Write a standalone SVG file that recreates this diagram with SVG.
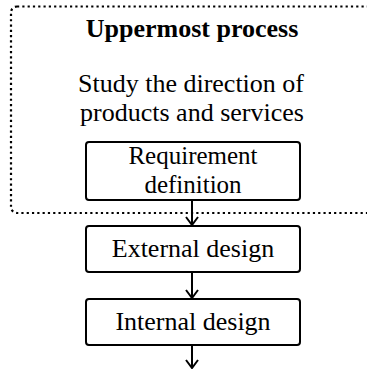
<svg xmlns="http://www.w3.org/2000/svg" width="367" height="370" viewBox="0 0 367 370">
<defs>
<marker id="arr" markerWidth="10" markerHeight="14" refX="9" refY="7" orient="auto" markerUnits="userSpaceOnUse" viewBox="0 0 10 14">
<path d="M1,1 L9,7 L1,13" fill="none" stroke="#000" stroke-width="2"/>
</marker>
<style>
.t{font-family:"Liberation Serif","Times New Roman",serif;font-size:26px;fill:#000;text-anchor:middle}
.s{font-size:25px}
.b{font-weight:bold}
.box{fill:#fff;stroke:#000;stroke-width:2}
.con{stroke:#000;stroke-width:2;fill:none}
</style>
</defs>
<rect width="367" height="370" fill="#fff"/>
<g id="uppermost">
<rect x="11" y="6.5" width="362" height="206.5" rx="6" fill="none" stroke="#000" stroke-width="2.2" stroke-dasharray="2.2 3.1"/>
<text class="t b" x="192" y="36.5">Uppermost process</text>
<text class="t"><tspan x="191" y="92">Study the direction of</tspan><tspan x="192" y="120.5">products and services</tspan></text>
</g>
<g id="connectors">
<line class="con" x1="192" y1="200" x2="192" y2="225" marker-end="url(#arr)"/>
<line class="con" x1="192" y1="272" x2="192" y2="298" marker-end="url(#arr)"/>
<line class="con" x1="192" y1="345" x2="192" y2="368" marker-end="url(#arr)"/>
</g>
<g id="requirement">
<rect class="box" x="86" y="142" width="214" height="58" rx="3"/>
<text class="t s"><tspan x="193" y="164">Requirement</tspan><tspan x="193" y="193">definition</tspan></text>
</g>
<g id="external">
<rect class="box" x="86" y="226" width="214" height="46" rx="3"/>
<text class="t" x="193" y="257">External design</text>
</g>
<g id="internal">
<rect class="box" x="86" y="299" width="214" height="46" rx="3"/>
<text class="t" x="193" y="330">Internal design</text>
</g>
</svg>
